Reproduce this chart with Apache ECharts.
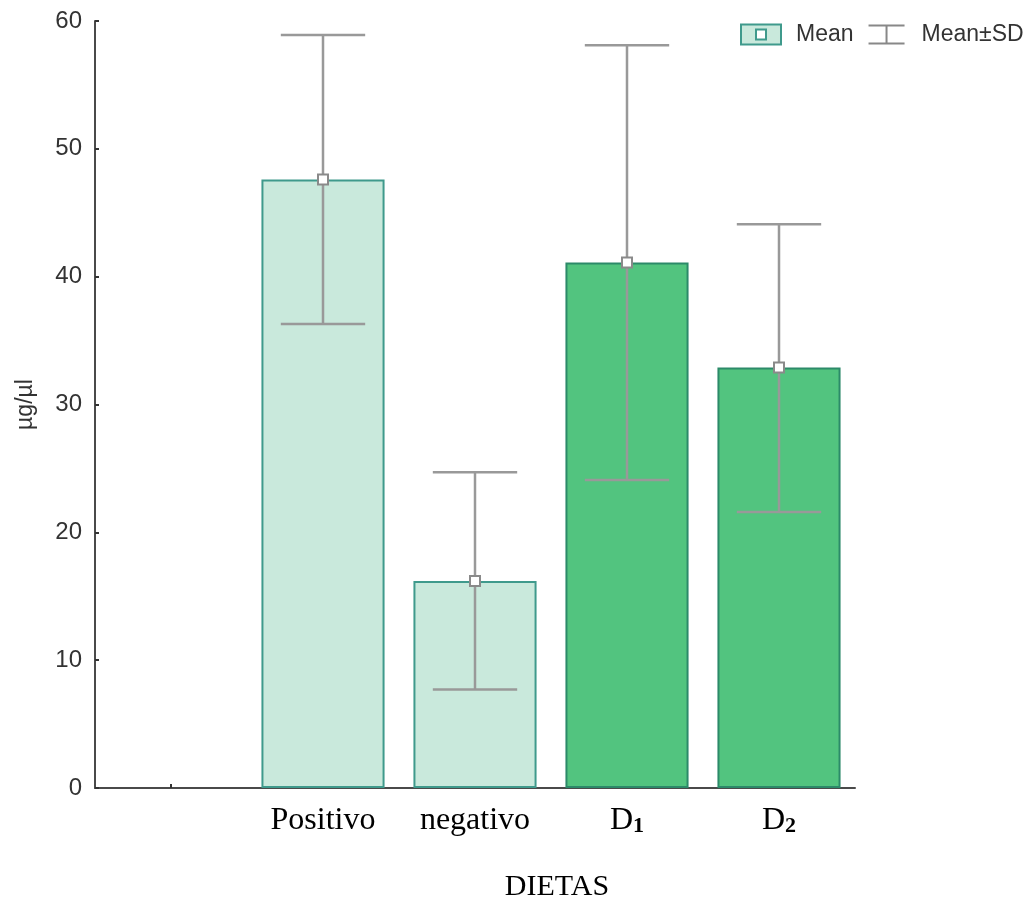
<!DOCTYPE html>
<html>
<head>
<meta charset="utf-8">
<script src="https://cdn.jsdelivr.net/npm/echarts@6/dist/echarts.min.js"></script>
<style>
  html, body { margin: 0; padding: 0; background: #ffffff; }
  #chart { width: 1035px; height: 904px; }
</style>
</head>
<body>
<div id="chart"></div>
<script>
const categories = ['', 'Positivo', 'negativo', 'D₁', 'D₂'];
const means = [null, 47.6, 16.2, 41.1, 32.9];
const sdLow = [null, 36.3, 7.7, 24.1, 21.6];
const sdHigh = [null, 58.9, 24.7, 58.1, 44.1];
const barGroup = [null, 'light', 'light', 'dark', 'dark'];
const yMin = 0, yMax = 60, yStep = 10;

const palette = {
  light: { fill: '#c9e9dc', border: '#3f9a8c' },
  dark: { fill: '#52c47f', border: '#2c8a69' }
};
const errColor = '#999999';
const subMap = { '₁': '1', '₂': '2' };

const barData = means.map((m, i) => m == null ? null : {
  value: m,
  itemStyle: { color: palette[barGroup[i]].fill, borderColor: palette[barGroup[i]].border, borderWidth: 2 }
});
const errData = means.map((m, i) => m == null ? null : [i, sdLow[i], sdHigh[i], m]).filter(d => d);

const serif = 'Liberation Serif, DejaVu Serif, serif';
const sans = 'Liberation Sans, Arial, sans-serif';

const chart = echarts.init(document.getElementById('chart'), null, { renderer: 'canvas' });
chart.setOption({
  animation: false,
  backgroundColor: '#ffffff',
  grid: { left: 95, top: 21, bottom: 116, right: 180, containLabel: false },
  legend: {
    left: 740, top: 23, padding: 0,
    itemWidth: 40, itemHeight: 20, itemGap: 15,
    textStyle: { fontFamily: sans, fontSize: 23, color: '#333333', padding: [0, 0, 0, 10] },
    data: [
      { name: 'Mean', icon: 'path://M0 0 L40 0 L40 20 L0 20 Z M15 5 L15 15 L25 15 L25 5 Z',
        itemStyle: { color: '#c9e9dc', borderColor: '#3f9a8c', borderWidth: 2 } },
      { name: 'Mean±SD', icon: 'path://M2 0 L38 0 L38 2 L21 2 L21 18 L38 18 L38 20 L2 20 L2 18 L19 18 L19 2 L2 2 Z',
        itemStyle: { color: '#888888', borderWidth: 0 } }
    ]
  },
  xAxis: {
    type: 'category',
    data: categories,
    axisLine: { lineStyle: { color: '#4a4a4a', width: 2 } },
    axisTick: { show: true, inside: true, alignWithLabel: true, interval: 0, length: 4, lineStyle: { color: '#333333', width: 2 } },
    axisLabel: {
      interval: 0,
      hideOverlap: false,
      fontFamily: serif, fontSize: 32, color: '#000000', margin: 17,
      formatter: function (v) {
        return v.replace(/[₁₂]/g, function (c) { return '{sub|' + subMap[c] + '}'; });
      },
      rich: {
        sub: { fontFamily: serif, fontSize: 22, fontWeight: 'bold', color: '#000000', padding: [10, 0, 0, 0] }
      }
    },
    splitLine: { show: false }
  },
  yAxis: {
    type: 'value',
    min: yMin, max: yMax, interval: yStep,
    name: 'µg/µl',
    nameLocation: 'middle',
    nameGap: 58,
    nameTextStyle: { fontFamily: sans, fontSize: 23, color: '#333333' },
    axisLine: { show: true, lineStyle: { color: '#4a4a4a', width: 2 } },
    axisTick: { show: true, inside: true, length: 4, lineStyle: { color: '#333333', width: 2 } },
    axisLabel: { fontFamily: sans, fontSize: 24, color: '#333333', margin: 13 },
    splitLine: { show: false }
  },
  graphic: [
    {
      type: 'text', x: 557, y: 887,
      style: { text: 'DIETAS', fontFamily: serif, fontSize: 30, fill: '#000000', align: 'center', verticalAlign: 'middle' }
    }
  ],
  series: [
    {
      name: 'Mean',
      type: 'bar',
      barWidth: '81%',
      data: barData,
      itemStyle: { color: '#c9e9dc', borderColor: '#3f9a8c' },
      z: 2
    },
    {
      name: 'Mean±SD',
      type: 'custom',
      itemStyle: { color: '#888888' },
      data: errData,
      z: 3,
      renderItem: function (params, api) {
        const x = api.value(0);
        const lo = api.coord([x, api.value(1)]);
        const hi = api.coord([x, api.value(2)]);
        const mid = api.coord([x, api.value(3)]);
        const half = api.size([1, 0])[0] * 0.555 / 2;
        const ls = { stroke: errColor, lineWidth: 2.5 };
        const sq = 5;
        return {
          type: 'group',
          children: [
            { type: 'line', shape: { x1: lo[0], y1: lo[1], x2: hi[0], y2: hi[1] }, style: ls },
            { type: 'line', shape: { x1: hi[0] - half, y1: hi[1], x2: hi[0] + half, y2: hi[1] }, style: ls },
            { type: 'line', shape: { x1: lo[0] - half, y1: lo[1], x2: lo[0] + half, y2: lo[1] }, style: ls },
            { type: 'rect', shape: { x: mid[0] - sq, y: mid[1] - sq, width: sq * 2, height: sq * 2 },
              style: { fill: '#ffffff', stroke: '#8a8a8a', lineWidth: 2 } }
          ]
        };
      }
    }
  ]
});
</script>
</body>
</html>
